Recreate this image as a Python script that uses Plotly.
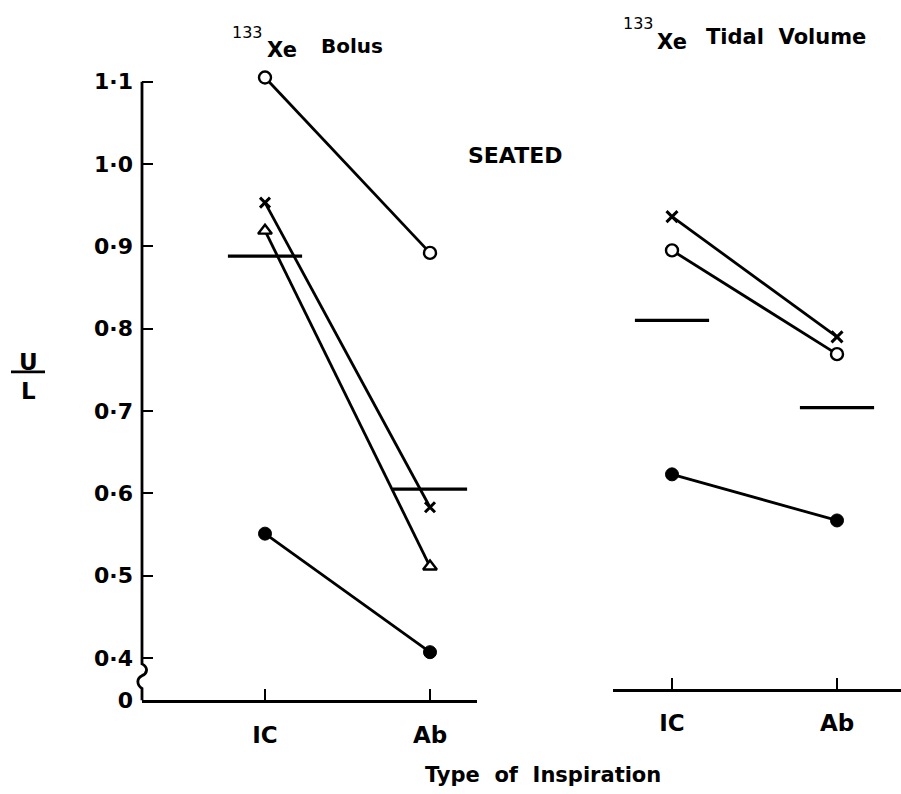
import plotly.graph_objects as go

# ---- data -------------------------------------------------------------
categories = ["IC", "Ab"]

# 133Xe bolus, seated: U/L ratio per subject
bolus_open_circle = [1.105, 0.892]
bolus_cross = [0.953, 0.583]
bolus_triangle = [0.919, 0.511]
bolus_filled_circle = [0.551, 0.407]
bolus_mean = [0.888, 0.605]

# 133Xe tidal volume, seated
tidal_cross = [0.936, 0.790]
tidal_open_circle = [0.895, 0.769]
tidal_filled_circle = [0.623, 0.567]
tidal_mean = [0.810, 0.704]

y_tick_values = [0.4, 0.5, 0.6, 0.7, 0.8, 0.9, 1.0, 1.1]
y_tick_labels = ["0·4", "0·5", "0·6", "0·7", "0·8", "0·9", "1·0", "1·1"]
y_break_label = "0"

# ---- page geometry (pixels on a 901 x 794 page) -------------------------
W, H = 901, 794
FONT = "DejaVu Sans"


def px(x):
    return x / W


def py(y):
    return 1 - y / H


# vertical scale: 0.1 of U/L spans ~83.7 px; 1.1 sits at y=83
PX_PER_UNIT = 837.0
Y_AT_1_1 = 83.0


def val_at(y):
    return 1.1 - (y - Y_AT_1_1) / PX_PER_UNIT


TOP_PX = 15
LEFT_AXIS_Y = 712   # broken-axis origin ("0") of the bolus panel
RIGHT_AXIS_Y = 700  # baseline of the tidal-volume panel
Y_AXIS_X = 142

left_dom = [px(Y_AXIS_X), px(477)]
right_dom = [px(613), 1.0]
left_range = [-(265 - Y_AXIS_X) / 165, 1 + (477 - 430) / 165]
right_range = [-(672 - 613) / 165, 1 + (901 - 837) / 165]

y_break_value = val_at(LEFT_AXIS_Y)

LINE_W = 2.8
BLACK = "black"

fig = go.Figure()


def add_series(values, xaxis, yaxis, symbol, size, fill, mline, mode="lines+markers"):
    fig.add_trace(go.Scatter(
        x=categories, y=values, xaxis=xaxis, yaxis=yaxis, mode=mode,
        line=dict(color=BLACK, width=LINE_W),
        marker=dict(symbol=symbol, size=size, color=fill,
                    line=dict(color=BLACK, width=mline)),
        cliponaxis=False, showlegend=False, hoverinfo="skip",
    ))


# bolus panel
add_series(bolus_mean, "x", "y", "line-ew", 53, BLACK, 3.2, mode="markers")
add_series(bolus_open_circle, "x", "y", "circle", 12, "white", 2.4)
add_series(bolus_cross, "x", "y", "x-thin", 10, BLACK, 3)
add_series(bolus_triangle, "x", "y", "triangle-up", 12, "white", 2.4)
add_series(bolus_filled_circle, "x", "y", "circle", 13, BLACK, 1)

# tidal volume panel
add_series(tidal_mean, "x2", "y2", "line-ew", 53, BLACK, 3.2, mode="markers")
add_series(tidal_cross, "x2", "y2", "x-thin", 11, BLACK, 3)
add_series(tidal_open_circle, "x2", "y2", "circle", 12, "white", 2.4)
add_series(tidal_filled_circle, "x2", "y2", "circle", 13, BLACK, 1)

tick_font = dict(family=FONT, size=22, color=BLACK, weight="bold")

xaxis_common = dict(
    type="category", showline=True, linecolor=BLACK, linewidth=2.8,
    ticks="inside", ticklen=11, tickwidth=1.6, tickcolor=BLACK,
    showgrid=False, zeroline=False,
    tickfont=dict(family=FONT, size=23, color=BLACK, weight="bold"),
    ticklabelstandoff=12, fixedrange=True,
)

fig.update_layout(
    width=W, height=H,
    margin=dict(l=0, r=0, t=0, b=0),
    paper_bgcolor="white", plot_bgcolor="rgba(0,0,0,0)",
    xaxis=dict(domain=left_dom, range=left_range, anchor="y", **xaxis_common),
    xaxis2=dict(domain=right_dom, range=right_range, anchor="y2", **xaxis_common),
    yaxis=dict(
        domain=[py(LEFT_AXIS_Y), py(TOP_PX)],
        range=[y_break_value, val_at(TOP_PX)],
        anchor="x", showline=False, showgrid=False, zeroline=False,
        tickmode="array",
        tickvals=[y_break_value] + y_tick_values,
        ticktext=[y_break_label] + y_tick_labels,
        ticks="inside", ticklen=11, tickwidth=2.4, tickcolor=BLACK,
        tickfont=tick_font, ticklabelstandoff=8, fixedrange=True,
    ),
    yaxis2=dict(
        domain=[py(RIGHT_AXIS_Y), py(TOP_PX)],
        range=[val_at(RIGHT_AXIS_Y), val_at(TOP_PX)],
        anchor="x2", visible=False, fixedrange=True,
    ),
    showlegend=False,
)

# y-axis spine with the zig-zag break between 0.4 and 0
y04 = Y_AT_1_1 + 0.7 * PX_PER_UNIT
spine = (
    f"M {px(Y_AXIS_X)},{py(Y_AT_1_1)} L {px(Y_AXIS_X)},{py(y04 + 6)} "
    f"C {px(Y_AXIS_X + 7)},{py(y04 + 10)} {px(Y_AXIS_X + 5)},{py(y04 + 16)} {px(Y_AXIS_X)},{py(y04 + 18)} "
    f"C {px(Y_AXIS_X - 6)},{py(y04 + 21)} {px(Y_AXIS_X - 5)},{py(y04 + 28)} {px(Y_AXIS_X)},{py(y04 + 31)} "
    f"L {px(Y_AXIS_X)},{py(LEFT_AXIS_Y)}"
)
shapes = [
    dict(type="path", xref="paper", yref="paper", path=spine,
         line=dict(color=BLACK, width=2.8)),
    # fraction bar of the U/L axis label
    dict(type="line", xref="paper", yref="paper",
         x0=px(11), x1=px(45), y0=py(378), y1=py(378),
         line=dict(color=BLACK, width=2.8)),
]
fig.update_layout(shapes=shapes)


def label(text, x, y, size, weight="bold", xanchor="center"):
    return dict(text=text, x=px(x), y=py(y), xref="paper", yref="paper",
                xanchor=xanchor, yanchor="middle", showarrow=False,
                font=dict(family=FONT, size=size, color=BLACK, weight=weight))


annotations = [
    label("133", 247, 33, 16, weight="normal"),
    label("Xe", 282, 51, 21),
    label("Bolus", 352, 47, 20),
    label("133", 638, 24, 16, weight="normal"),
    label("Xe", 672, 43, 21),
    label("Tidal  Volume", 786, 38, 21),
    label("SEATED", 515, 158, 22),
    label("Type  of  Inspiration", 543, 788, 21),
    label("U", 29, 368, 23, weight="bold"),
    label("L", 29, 398, 23, weight="bold"),
]
fig.update_layout(annotations=annotations)

fig.write_html("out.html")
